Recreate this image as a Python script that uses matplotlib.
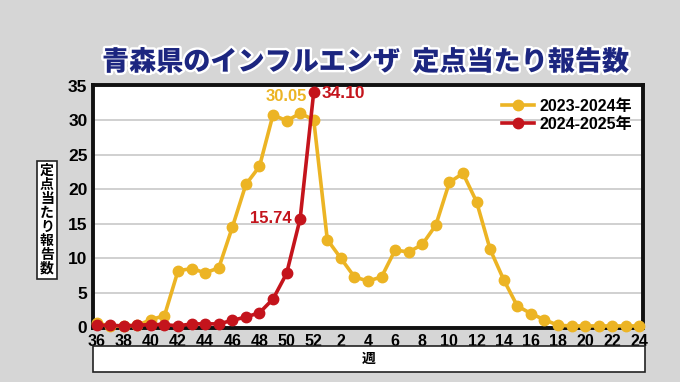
import numpy as np
import matplotlib.pyplot as plt
import matplotlib.patheffects as pe
from matplotlib.patches import Rectangle
from matplotlib.lines import Line2D

plt.rcParams['font.family'] = ['Noto Sans CJK JP', 'DejaVu Sans']

weeks = list(range(36, 53)) + list(range(1, 25))
tick_labels = [str(w) for w in weeks[::2]]

# 2023-2024 season
season_prev = [0.6, 0.2, 0.2, 0.3, 1.1, 1.7, 8.2, 8.5, 7.9, 8.6, 14.5, 20.7, 23.3,
               30.8, 29.9, 31.0, 30.05,
               12.7, 10.0, 7.3, 6.7, 7.3, 11.2, 10.9, 12.0, 14.8, 21.0, 22.3, 18.2,
               11.3, 6.9, 3.1, 2.0, 1.1, 0.3, 0.2, 0.2, 0.2, 0.2, 0.2, 0.2]
# 2024-2025 season (through week 52)
season_cur = [0.3, 0.3, 0.2, 0.3, 0.4, 0.4, 0.2, 0.5, 0.5, 0.5, 1.0, 1.5, 2.1,
              4.1, 7.8, 15.74, 34.10]

yellow = '#ecb424'
red = '#c4141c'
navy = '#1c2680'

W, H = 680, 382
fig = plt.figure(figsize=(W / 100, H / 100), dpi=100)
fig.patch.set_facecolor('#d6d6d6')

ax = fig.add_axes([93 / W, 1 - 328 / H, 550 / W, 243 / H])
ax.set_facecolor('white')
x_prev = np.arange(len(season_prev))
x_cur = np.arange(len(season_cur))

ax.plot(x_prev, season_prev, color=yellow, lw=2.6, marker='o', ms=7.5,
        zorder=5, clip_on=False)
ax.plot(x_cur, season_cur, color=red, lw=2.6, marker='o', ms=7.5,
        zorder=6, clip_on=False)

ax.set_xlim(-0.27, 40.27)
ax.set_ylim(-0.1, 35.1)
ax.set_yticks(range(0, 36, 5))
ax.set_xticks(x_prev[::2])
ax.set_xticklabels(tick_labels)
ax.yaxis.grid(True, color='#c8c8c8', lw=1.2)
ax.set_axisbelow(True)
ax.tick_params(length=0, pad=4)
for lab in ax.get_yticklabels():
    lab.set_fontfamily('Liberation Sans')
    lab.set_fontweight('bold')
    lab.set_fontsize(12.5)
for lab in ax.get_xticklabels():
    lab.set_fontfamily(['Liberation Sans Narrow', 'Liberation Sans'])
    lab.set_fontweight('bold')
    lab.set_fontsize(11.5)
for sp in ax.spines.values():
    sp.set_linewidth(2.8)
    sp.set_color('#111111')
    sp.set_zorder(4)

# value labels
ax.annotate('30.05', (14, 30.05), xytext=(0, 17), textcoords='offset points',
            ha='center', va='center', color=yellow, fontsize=12,
            fontweight='bold', family='Liberation Sans', zorder=7)
ax.annotate('34.10', (16, 34.10), xytext=(6, -1), textcoords='offset points',
            ha='left', va='center', color=red, fontsize=12.5,
            fontweight='bold', family='Liberation Sans', zorder=7)
ax.annotate('15.74', (15, 15.74), xytext=(-6, 0), textcoords='offset points',
            ha='right', va='center', color=red, fontsize=12,
            fontweight='bold', family='Liberation Sans', zorder=7)

handles = [Line2D([], [], color=yellow, lw=2.6, marker='o', ms=7.5),
           Line2D([], [], color=red, lw=2.6, marker='o', ms=7.5)]
leg = ax.legend(handles, ['2023-2024年', '2024-2025年'], loc='upper right',
                bbox_to_anchor=(1.0, 0.99),
                frameon=False, handlelength=2.0, handletextpad=0.35,
                labelspacing=0.2, borderaxespad=0.3,
                prop={'family': ['Liberation Sans', 'Noto Sans CJK JP'],
                      'weight': 'bold', 'size': 11.5})
leg.set_zorder(8)

# title
fig.text(366 / W, 1 - 62 / H, '青森県のインフルエンザ  定点当たり報告数',
         ha='center', va='center', color=navy, fontsize=19.5,
         fontweight='black',
         path_effects=[pe.withStroke(linewidth=3.5, foreground='white')])

# y label box
fig.text(47 / W, 1 - 220 / H, '\n'.join('定点当たり報告数'), ha='center',
         va='center', fontsize=10, fontweight='bold', linespacing=1.0,
         bbox=dict(boxstyle='square,pad=0.25', fc='white', ec='#222222', lw=1.2))

# x label box
fig.add_artist(Rectangle((93 / W, 1 - 372 / H), 552 / W, 26 / H,
                         transform=fig.transFigure, fc='white', ec='#222222',
                         lw=1.2))
fig.text(369 / W, 1 - 359 / H, '週', ha='center', va='center',
         fontsize=10, fontweight='bold')

fig.savefig('out.png', dpi=100, facecolor=fig.get_facecolor())
